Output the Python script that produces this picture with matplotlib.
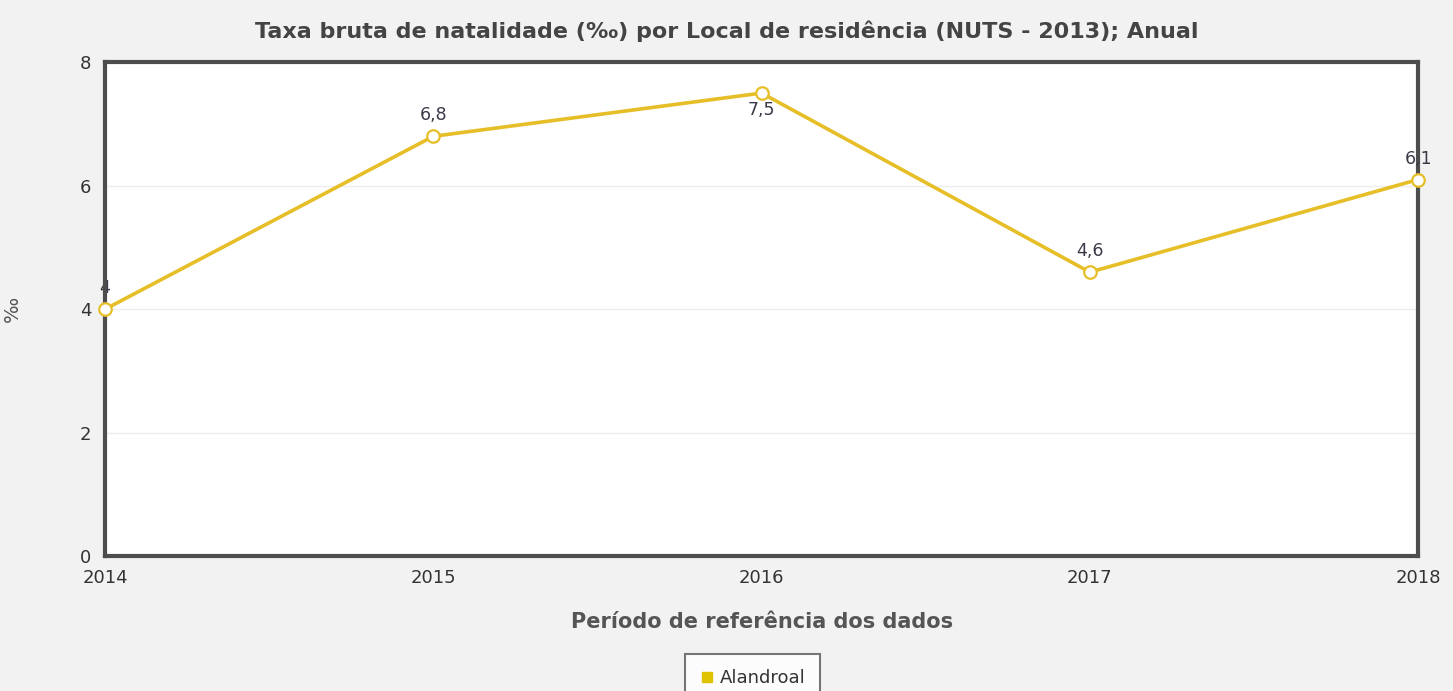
"""Taxa bruta de natalidade, Alandroal, 2014-2018."""
import matplotlib

matplotlib.use("Agg")
import matplotlib.pyplot as plt
from matplotlib.lines import Line2D

YEARS = [2014, 2015, 2016, 2017, 2018]
RATES = [4.0, 6.8, 7.5, 4.6, 6.1]
LABELS = ["4", "6,8", "7,5", "4,6", "6,1"]
# label placement: above the point, except where the top border is in the way
LABEL_BELOW = [False, False, True, False, False]
SERIES = "Alandroal"

LINE_COLOR = "#e6be28"
TEXT_COLOR = "#444444"
BG = "#f2f2f2"

plt.rcParams["font.family"] = ["DejaVu Sans"]

fig = plt.figure(figsize=(14.53, 6.91), dpi=100, facecolor=BG)
ax = fig.add_axes([0.0723, 0.195, 0.9037, 0.715])
ax.set_facecolor("white")

ax.plot(YEARS, RATES, color=LINE_COLOR, linewidth=2.6, marker="o", markersize=9,
        markerfacecolor="white", markeredgecolor=LINE_COLOR, markeredgewidth=1.6,
        zorder=3, clip_on=False)

for year, rate, text, below in zip(YEARS, RATES, LABELS, LABEL_BELOW):
    offset = -12 if below else 15
    ax.annotate(text, (year, rate), xytext=(0, offset), textcoords="offset points",
                ha="center", va="center", fontsize=12.5, color="#3a3a48",
                zorder=2 if year == YEARS[0] else 4)

ax.set_xlim(YEARS[0], YEARS[-1])
ax.set_ylim(0, 8)
ax.set_yticks([0, 2, 4, 6, 8])
ax.set_xticks(YEARS)
ax.tick_params(axis="both", length=0, labelsize=13, colors="#333333")
ax.tick_params(axis="y", pad=10)
ax.tick_params(axis="x", pad=9)
ax.grid(axis="y", color="#eeeeee", linewidth=1)
ax.set_axisbelow(True)
for spine in ax.spines.values():
    spine.set_color("#4d4d4d")
    spine.set_linewidth(3)

ax.set_xlabel("Período de referência dos dados", fontsize=15, fontweight="bold",
              color="#555555", labelpad=18)
ax.set_ylabel("‰", fontsize=14, color="#555555")
ax.yaxis.set_label_coords(-0.063, 0.5)
fig.suptitle("Taxa bruta de natalidade (‰) por Local de residência (NUTS - 2013); Anual",
             fontsize=16, fontweight="bold", color=TEXT_COLOR, y=0.97)

handle = Line2D([], [], linestyle="none", marker="s", markersize=7,
                markerfacecolor="#e0c300", markeredgecolor="#e0c300")
legend = fig.legend([handle], [SERIES], loc="upper center", bbox_to_anchor=(0.518, 0.053),
                    fontsize=13, frameon=True, fancybox=False, edgecolor="#555555",
                    borderpad=0.8, handletextpad=0.3, handlelength=0.8,
                    borderaxespad=0)
legend.get_frame().set_linewidth(1.5)
for text in legend.get_texts():
    text.set_color("#333333")

fig.savefig("out.png", dpi=100, facecolor=BG)
